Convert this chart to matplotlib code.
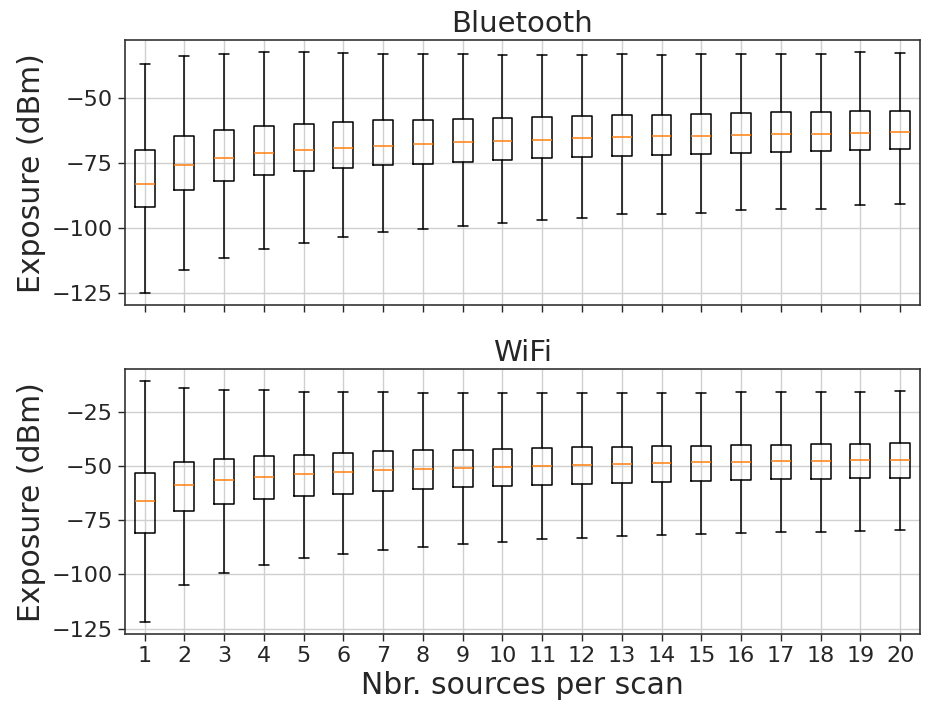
import numpy as np
import matplotlib
matplotlib.use("Agg")
from matplotlib import pyplot as plt
import seaborn as sns

# number of sources per scan
sources = list(range(1, 21))

# Bluetooth exposure (dBm)
bt_whislo = [-125.0, -116.0, -111.3, -108.0, -105.6, -103.4, -101.6, -100.3, -99.1, -97.9,
             -96.8, -96.1, -94.6, -94.5, -94.2, -93.0, -92.8, -92.6, -91.0, -90.9]
bt_q1 = [-91.9, -85.4, -81.9, -79.8, -78.2, -77.0, -75.9, -75.3, -74.7, -73.9,
         -73.2, -72.7, -72.4, -71.9, -71.5, -71.1, -70.8, -70.4, -70.1, -69.7]
bt_med = [-83.0, -75.9, -73.1, -71.3, -70.1, -69.2, -68.4, -67.8, -67.1, -66.5,
          -66.1, -65.6, -65.2, -64.8, -64.7, -64.3, -64.0, -63.8, -63.4, -63.0]
bt_q3 = [-69.9, -64.8, -62.4, -61.0, -60.0, -59.3, -58.7, -58.4, -58.0, -57.8,
         -57.4, -57.0, -56.7, -56.5, -56.1, -55.9, -55.6, -55.5, -55.0, -55.0]
bt_whishi = [-37.0, -33.9, -33.1, -32.6, -32.4, -33.0, -33.1, -33.2, -33.2, -33.6,
             -33.6, -33.5, -33.3, -33.5, -33.2, -33.3, -33.3, -33.2, -32.5, -33.0]

# WiFi exposure (dBm)
wf_whislo = [-122.1, -105.0, -99.2, -95.6, -92.6, -90.7, -88.9, -87.3, -85.8, -84.9,
             -83.8, -83.1, -82.3, -81.7, -81.2, -80.9, -80.6, -80.3, -79.8, -79.5]
wf_q1 = [-80.9, -70.9, -67.5, -65.2, -63.8, -62.8, -61.7, -60.6, -59.8, -59.2,
         -58.6, -58.2, -57.7, -57.4, -56.8, -56.5, -56.2, -55.9, -55.7, -55.6]
wf_med = [-66.0, -58.9, -56.6, -55.0, -53.8, -52.9, -52.0, -51.4, -50.8, -50.3,
          -49.9, -49.6, -49.1, -48.8, -48.3, -48.0, -47.7, -47.6, -47.3, -47.1]
wf_q3 = [-53.1, -48.2, -46.7, -45.3, -44.8, -43.9, -43.2, -42.8, -42.5, -42.0,
         -41.7, -41.4, -41.1, -41.0, -40.7, -40.5, -40.2, -40.0, -39.7, -39.4]
wf_whishi = [-10.9, -14.1, -14.9, -14.9, -16.1, -15.8, -16.1, -16.4, -16.6, -16.4,
             -16.6, -16.6, -16.3, -16.4, -16.4, -16.1, -15.8, -15.8, -15.8, -15.5]


def make_stats(lo, q1, med, q3, hi):
    """Build the list of dicts that Axes.bxp expects"""
    return [dict(whislo=a, q1=b, med=c, q3=d, whishi=e, fliers=[])
            for a, b, c, d, e in zip(lo, q1, med, q3, hi)]


sns.set_style("ticks", {"axes.grid": True, "grid.color": "#d0d0d0",
                        "axes.edgecolor": "#333333"})
plt.rcParams['font.family'] = ['DejaVu Sans']

fig = plt.figure(figsize=(9.26, 7.06), dpi=100)
ax1 = fig.add_axes([0.1347, 0.5676, 0.8588, 0.3757])
ax2 = fig.add_axes([0.1347, 0.1020, 0.8588, 0.3749], sharex=ax1)

panels = [
    (ax1, "Bluetooth", make_stats(bt_whislo, bt_q1, bt_med, bt_q3, bt_whishi), (-129.6, -27.9), [-125, -100, -75, -50]),
    (ax2, "WiFi", make_stats(wf_whislo, wf_q1, wf_med, wf_q3, wf_whishi), (-127.4, -5.5), [-125, -100, -75, -50, -25]),
]

for ax, title, stats, ylim, yticks in panels:
    ax.bxp(stats, positions=sources, widths=0.5, showfliers=False,
           boxprops=dict(color='black', linewidth=1.1),
           whiskerprops=dict(color='black', linewidth=1.1),
           capprops=dict(color='black', linewidth=1.1),
           medianprops=dict(color='#ff7f0e', linewidth=1.1))
    ax.set_ylim(ylim)
    ax.set_yticks(yticks)
    ax.set_title(title, fontsize=21, color='#262626')
    ax.set_ylabel("Exposure (dBm)", fontsize=21.5, color='#262626')
    ax.tick_params(labelsize=16, colors='#262626', length=5, width=1)
    ax.grid(True, color='#d0d0d0', linewidth=1)
    for sp in ax.spines.values():
        sp.set_linewidth(1.2)
        sp.set_color('#333333')

ax1.set_xlim(0.5, 20.5)
ax1.set_xticks(sources)
ax1.tick_params(labelbottom=False)
ax2.set_xticks(sources)
ax2.set_xticklabels([str(s) for s in sources])
ax2.set_xlabel("Nbr. sources per scan", fontsize=21.5, color='#262626')

fig.align_ylabels([ax1, ax2])
plt.savefig("out.png", dpi=100)
